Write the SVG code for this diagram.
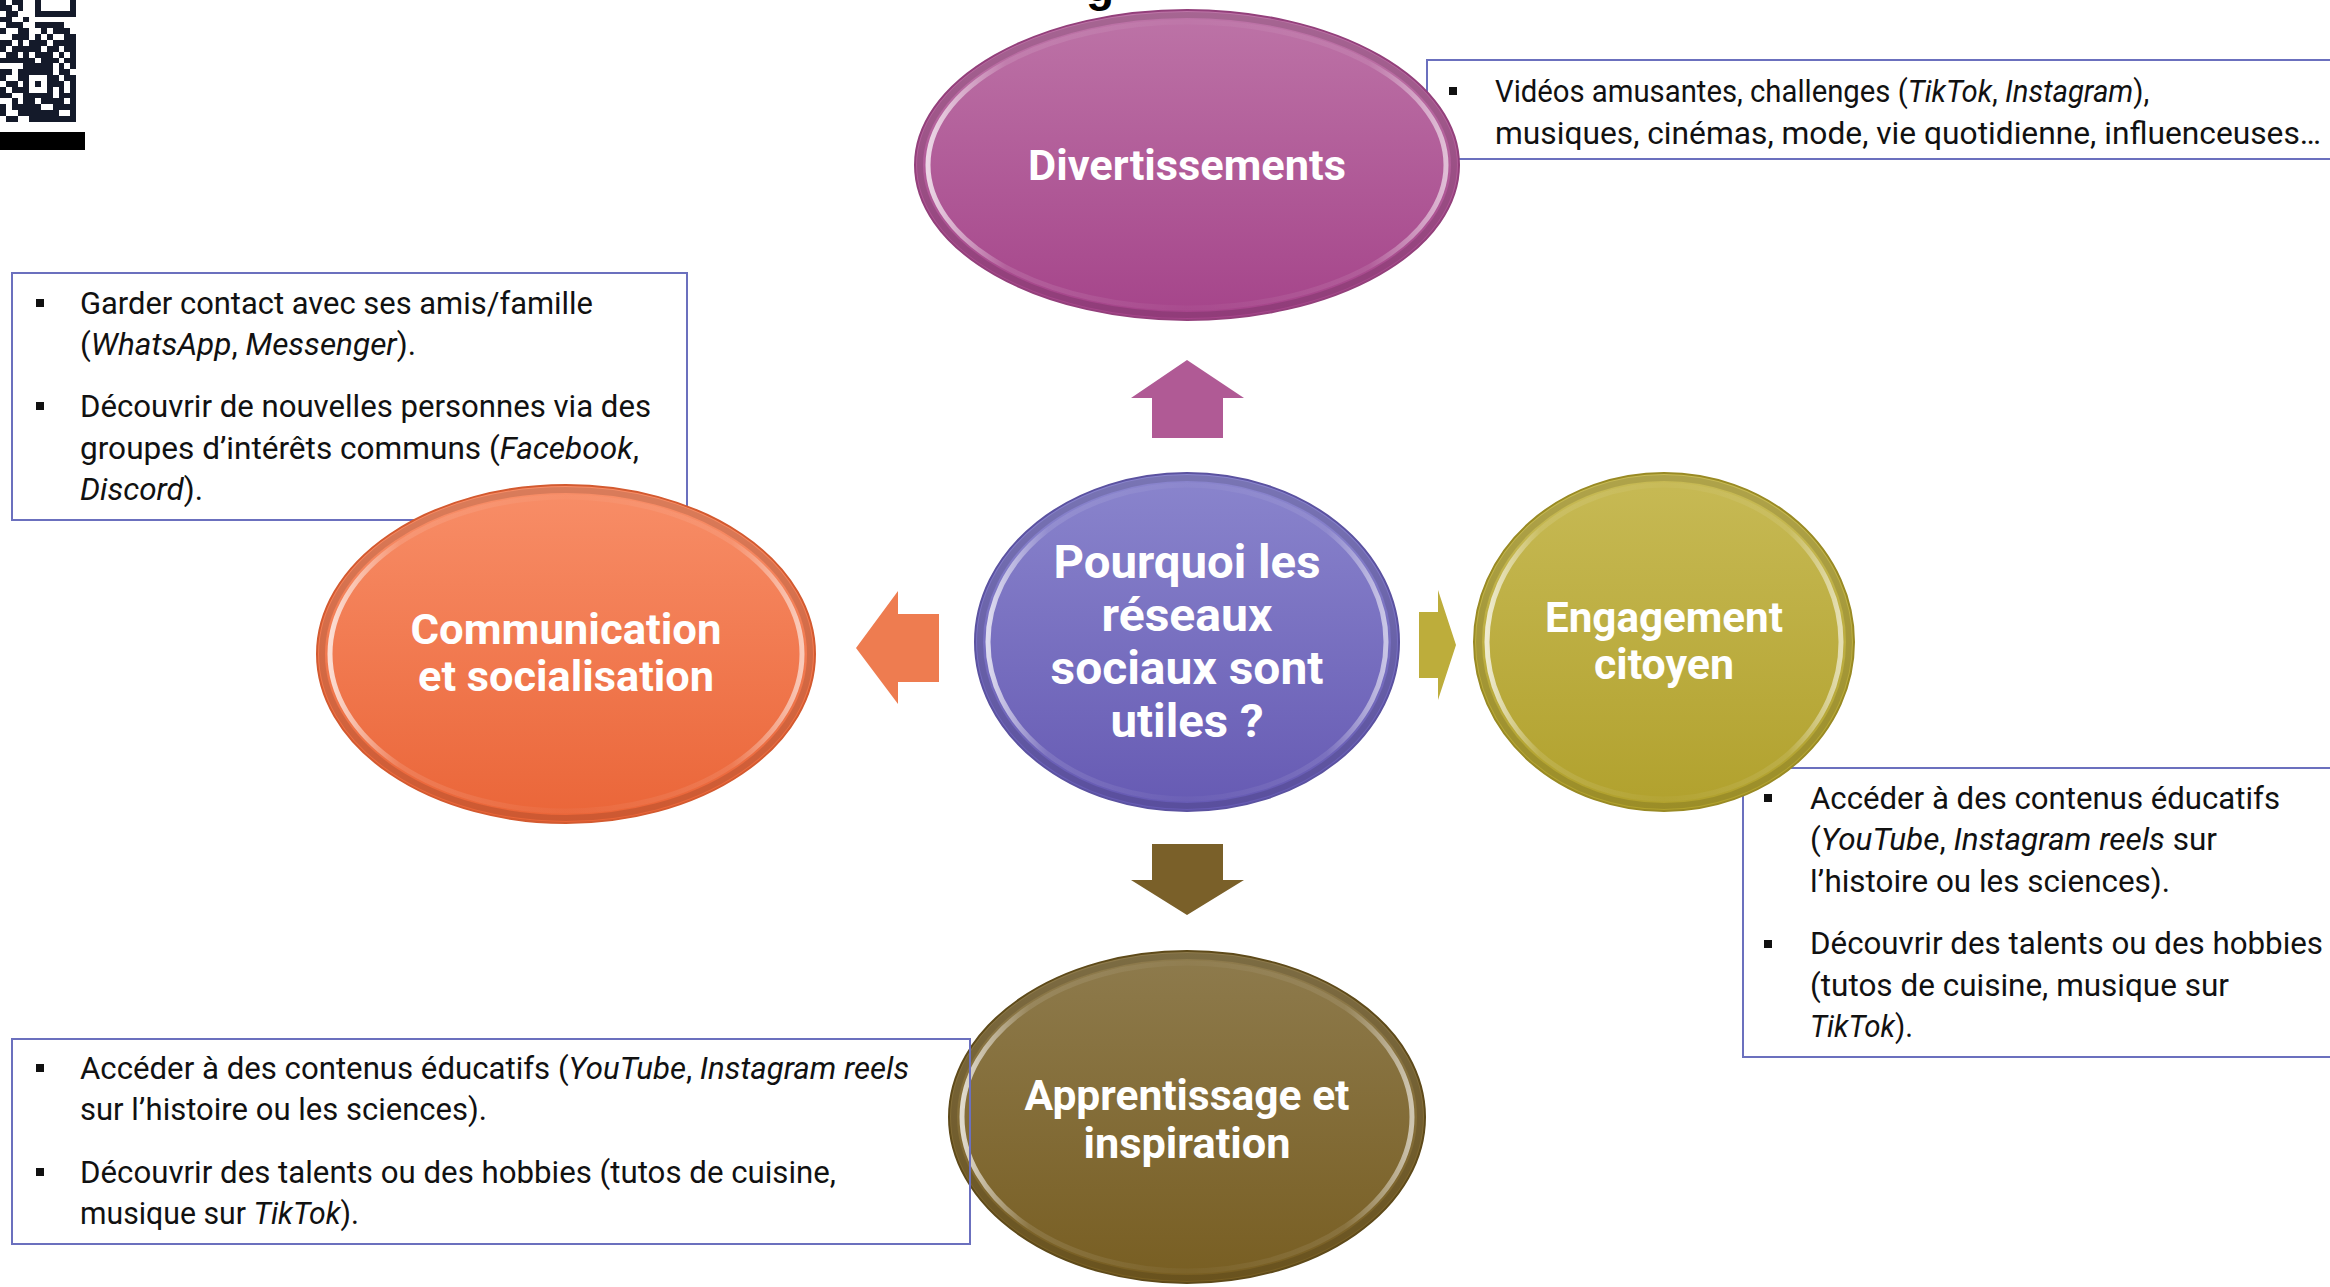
<svg xmlns="http://www.w3.org/2000/svg" width="2330" height="1287" viewBox="0 0 2330 1287">
<defs>
<linearGradient id="gPink" x1="0" y1="0" x2="0" y2="1"><stop offset="0" stop-color="#BD74A7"/><stop offset="1" stop-color="#A5448A"/></linearGradient>
<linearGradient id="gPurple" x1="0" y1="0" x2="0" y2="1"><stop offset="0" stop-color="#8A85CD"/><stop offset="1" stop-color="#665AB3"/></linearGradient>
<linearGradient id="gOrange" x1="0" y1="0" x2="0" y2="1"><stop offset="0" stop-color="#F88E68"/><stop offset="1" stop-color="#EA6538"/></linearGradient>
<linearGradient id="gOlive" x1="0" y1="0" x2="0" y2="1"><stop offset="0" stop-color="#C7BA55"/><stop offset="1" stop-color="#B1A12D"/></linearGradient>
<linearGradient id="gBrown" x1="0" y1="0" x2="0" y2="1"><stop offset="0" stop-color="#8E7B4D"/><stop offset="1" stop-color="#785E22"/></linearGradient>
<linearGradient id="bevel" x1="0" y1="0" x2="1" y2="0"><stop offset="0" stop-color="#fff" stop-opacity="0.75"/><stop offset="0.15" stop-color="#fff" stop-opacity="0.12"/><stop offset="0.5" stop-color="#fff" stop-opacity="0.03"/><stop offset="0.85" stop-color="#fff" stop-opacity="0.1"/><stop offset="1" stop-color="#fff" stop-opacity="0.6"/></linearGradient>
<style>
.box{fill:none;stroke:#6B70BE;stroke-width:2}
.body{font-family:Roboto,"Liberation Sans",sans-serif;font-size:31px;fill:#111}
.it{font-style:italic}
.lbl{font-family:Roboto,"Liberation Sans",sans-serif;font-weight:700;fill:#fff;text-anchor:middle}
.rim{fill:none;stroke:url(#bevel);stroke-width:5}
.edge{fill:none;stroke:#000;stroke-opacity:0.12;stroke-width:6}
.bul{fill:#111}
</style>
</defs>
<rect x="0" y="0" width="2330" height="1287" fill="#fff"/>

<g id="qr">
<path fill="#141a2a" shape-rendering="crispEdges" transform="translate(0,-1) scale(5.85)" d="M0 0h1v1h-1z M2 0h2v1h-2z M6 0h1v1h-1z M12 0h1v1h-1z M0 1h2v1h-2z M3 1h1v1h-1z M6 1h1v1h-1z M12 1h1v1h-1z M1 2h2v1h-2z M6 2h7v1h-7z M0 3h2v1h-2z M4 3h1v1h-1z M1 4h3v1h-3z M6 4h5v1h-5z M0 5h1v1h-1z M3 5h2v1h-2z M7 5h1v1h-1z M9 5h3v1h-3z M2 6h3v1h-3z M6 6h1v1h-1z M8 6h1v1h-1z M11 6h2v1h-2z M0 7h2v1h-2z M3 7h1v1h-1z M5 7h3v1h-3z M9 7h4v1h-4z M0 8h1v1h-1z M2 8h5v1h-5z M8 8h2v1h-2z M11 8h2v1h-2z M1 9h2v1h-2z M4 9h1v1h-1z M6 9h3v1h-3z M10 9h1v1h-1z M12 9h1v1h-1z M0 10h6v1h-6z M7 10h3v1h-3z M11 10h2v1h-2z M4 11h5v1h-5z M10 11h1v1h-1z M12 11h1v1h-1z M0 12h2v1h-2z M3 12h6v1h-6z M10 12h2v1h-2z M0 13h1v1h-1z M3 13h2v1h-2z M8 13h2v1h-2z M11 13h2v1h-2z M1 14h2v1h-2z M4 14h1v1h-1z M6 14h1v1h-1z M8 14h3v1h-3z M12 14h1v1h-1z M0 15h1v1h-1z M2 15h3v1h-3z M8 15h1v1h-1z M10 15h1v1h-1z M12 15h1v1h-1z M0 16h2v1h-2z M4 16h5v1h-5z M10 16h3v1h-3z M2 17h1v1h-1z M4 17h2v1h-2z M7 17h4v1h-4z M12 17h1v1h-1z M0 18h1v1h-1z M2 18h5v1h-5z M9 18h4v1h-4z M0 19h1v1h-1z M3 19h7v1h-7z M12 19h1v1h-1z M1 20h2v1h-2z M5 20h8v1h-8z"/>
<rect x="0" y="132" width="85" height="18" fill="#000"/>
</g>

<g id="title-fragment">
<text x="1100" y="1" font-family="'Liberation Sans',Arial,sans-serif" font-weight="700" font-size="46" text-anchor="middle" fill="#000">g</text>
</g>

<g id="box-divertissements">
<rect class="box" x="1427" y="60" width="1000" height="99"/>
<rect class="bul" x="1449" y="87" width="8" height="8"/>
<text class="body" transform="translate(1495,102) scale(0.945,1)" x="0" y="0">Vidéos amusantes, challenges (<tspan class="it">TikTok</tspan>, <tspan class="it">Instagram</tspan>),</text>
<text class="body" x="1495" y="144" textLength="826" lengthAdjust="spacingAndGlyphs">musiques, cinémas, mode, vie quotidienne, influenceuses…</text>
</g>

<g id="box-communication">
<rect class="box" x="12" y="273" width="675" height="247"/>
<rect class="bul" x="36" y="299" width="8" height="8"/>
<rect class="bul" x="36" y="402" width="8" height="8"/>
<text class="body" x="80" y="314" textLength="513" lengthAdjust="spacingAndGlyphs">Garder contact avec ses amis/famille</text>
<text class="body" x="80" y="355" textLength="336" lengthAdjust="spacingAndGlyphs">(<tspan class="it">WhatsApp</tspan>, <tspan class="it">Messenger</tspan>).</text>
<text class="body" x="80" y="417" textLength="571" lengthAdjust="spacingAndGlyphs">Découvrir de nouvelles personnes via des</text>
<text class="body" x="80" y="459" textLength="559" lengthAdjust="spacingAndGlyphs">groupes d’intérêts communs (<tspan class="it">Facebook</tspan>,</text>
<text class="body" x="80" y="500" textLength="123" lengthAdjust="spacingAndGlyphs"><tspan class="it">Discord</tspan>).</text>
</g>

<g id="box-engagement">
<rect class="box" x="1743" y="768" width="700" height="289"/>
<rect class="bul" x="1764" y="794" width="8" height="8"/>
<rect class="bul" x="1764" y="940" width="8" height="8"/>
<text class="body" x="1810" y="809" textLength="470" lengthAdjust="spacingAndGlyphs">Accéder à des contenus éducatifs</text>
<text class="body" x="1810" y="850" textLength="407" lengthAdjust="spacingAndGlyphs">(<tspan class="it">YouTube</tspan>, <tspan class="it">Instagram reels</tspan> sur</text>
<text class="body" x="1810" y="892" textLength="360" lengthAdjust="spacingAndGlyphs">l’histoire ou les sciences).</text>
<text class="body" x="1810" y="954" textLength="513" lengthAdjust="spacingAndGlyphs">Découvrir des talents ou des hobbies</text>
<text class="body" x="1810" y="996" textLength="419" lengthAdjust="spacingAndGlyphs">(tutos de cuisine, musique sur</text>
<text class="body" x="1810" y="1037" textLength="103" lengthAdjust="spacingAndGlyphs"><tspan class="it">TikTok</tspan>).</text>
</g>

<g id="connectors">
<polygon points="1187,360 1244,398 1223,398 1223,438 1152,438 1152,398 1131,398" fill="#B05A95"/>
<polygon points="856,648 898,591 898,614 939,614 939,682 898,682 898,704" fill="#EE7C50"/>
<polygon points="1456,645 1438,590 1438,612 1419,612 1419,678 1438,678 1438,700" fill="#BDAD3B"/>
<polygon points="1152,844 1223,844 1223,880 1244,880 1187,915 1131,880 1152,880" fill="#7A6029"/>
</g>

<g id="node-divertissements">
<ellipse cx="1187" cy="165" rx="272" ry="155" fill="url(#gPink)" stroke="#93407b" stroke-width="2"/>
<ellipse class="edge" cx="1187" cy="165" rx="267" ry="150"/>
<ellipse class="rim" cx="1187" cy="165" rx="259" ry="143"/>
<text class="lbl" x="1187" y="180" font-size="42" textLength="318" lengthAdjust="spacingAndGlyphs">Divertissements</text>
</g>

<g id="node-centre">
<ellipse cx="1187" cy="642" rx="212" ry="169" fill="url(#gPurple)" stroke="#5b52a0" stroke-width="2"/>
<ellipse class="edge" cx="1187" cy="642" rx="207" ry="164"/>
<ellipse class="rim" cx="1187" cy="642" rx="199" ry="157"/>
<text class="lbl" x="1187" y="578" font-size="46" textLength="267" lengthAdjust="spacingAndGlyphs">Pourquoi les</text>
<text class="lbl" x="1187" y="631" font-size="46" textLength="171" lengthAdjust="spacingAndGlyphs">réseaux</text>
<text class="lbl" x="1187" y="684" font-size="46" textLength="273" lengthAdjust="spacingAndGlyphs">sociaux sont</text>
<text class="lbl" x="1187" y="737" font-size="46" textLength="153" lengthAdjust="spacingAndGlyphs">utiles ?</text>
</g>

<g id="node-communication">
<ellipse cx="566" cy="654" rx="249" ry="169" fill="url(#gOrange)" stroke="#d35a30" stroke-width="2"/>
<ellipse class="edge" cx="566" cy="654" rx="244" ry="164"/>
<ellipse class="rim" cx="566" cy="654" rx="236" ry="157"/>
<text class="lbl" x="566" y="644" font-size="42" textLength="311" lengthAdjust="spacingAndGlyphs">Communication</text>
<text class="lbl" x="566" y="691" font-size="42" textLength="296" lengthAdjust="spacingAndGlyphs">et socialisation</text>
</g>

<g id="node-engagement">
<ellipse cx="1664" cy="642" rx="190" ry="169" fill="url(#gOlive)" stroke="#998a24" stroke-width="2"/>
<ellipse class="edge" cx="1664" cy="642" rx="185" ry="164"/>
<ellipse class="rim" cx="1664" cy="642" rx="177" ry="157"/>
<text class="lbl" x="1664" y="632" font-size="42" textLength="238" lengthAdjust="spacingAndGlyphs">Engagement</text>
<text class="lbl" x="1664" y="679" font-size="42" textLength="140" lengthAdjust="spacingAndGlyphs">citoyen</text>
</g>

<g id="node-apprentissage">
<ellipse cx="1187" cy="1117" rx="238" ry="166" fill="url(#gBrown)" stroke="#5e4a1a" stroke-width="2"/>
<ellipse class="edge" cx="1187" cy="1117" rx="233" ry="161"/>
<ellipse class="rim" cx="1187" cy="1117" rx="225" ry="154"/>
<text class="lbl" x="1187" y="1110" font-size="42" textLength="325" lengthAdjust="spacingAndGlyphs">Apprentissage et</text>
<text class="lbl" x="1187" y="1158" font-size="42" textLength="207" lengthAdjust="spacingAndGlyphs">inspiration</text>
</g>

<g id="box-apprentissage">
<rect class="box" x="12" y="1039" width="958" height="205"/>
<rect class="bul" x="36" y="1064" width="8" height="8"/>
<rect class="bul" x="36" y="1168" width="8" height="8"/>
<text class="body" x="80" y="1079" textLength="829" lengthAdjust="spacingAndGlyphs">Accéder à des contenus éducatifs (<tspan class="it">YouTube</tspan>, <tspan class="it">Instagram reels</tspan></text>
<text class="body" x="80" y="1120" textLength="407" lengthAdjust="spacingAndGlyphs">sur l’histoire ou les sciences).</text>
<text class="body" x="80" y="1183" textLength="756" lengthAdjust="spacingAndGlyphs">Découvrir des talents ou des hobbies (tutos de cuisine,</text>
<text class="body" x="80" y="1224" textLength="279" lengthAdjust="spacingAndGlyphs">musique sur <tspan class="it">TikTok</tspan>).</text>
</g>
</svg>
